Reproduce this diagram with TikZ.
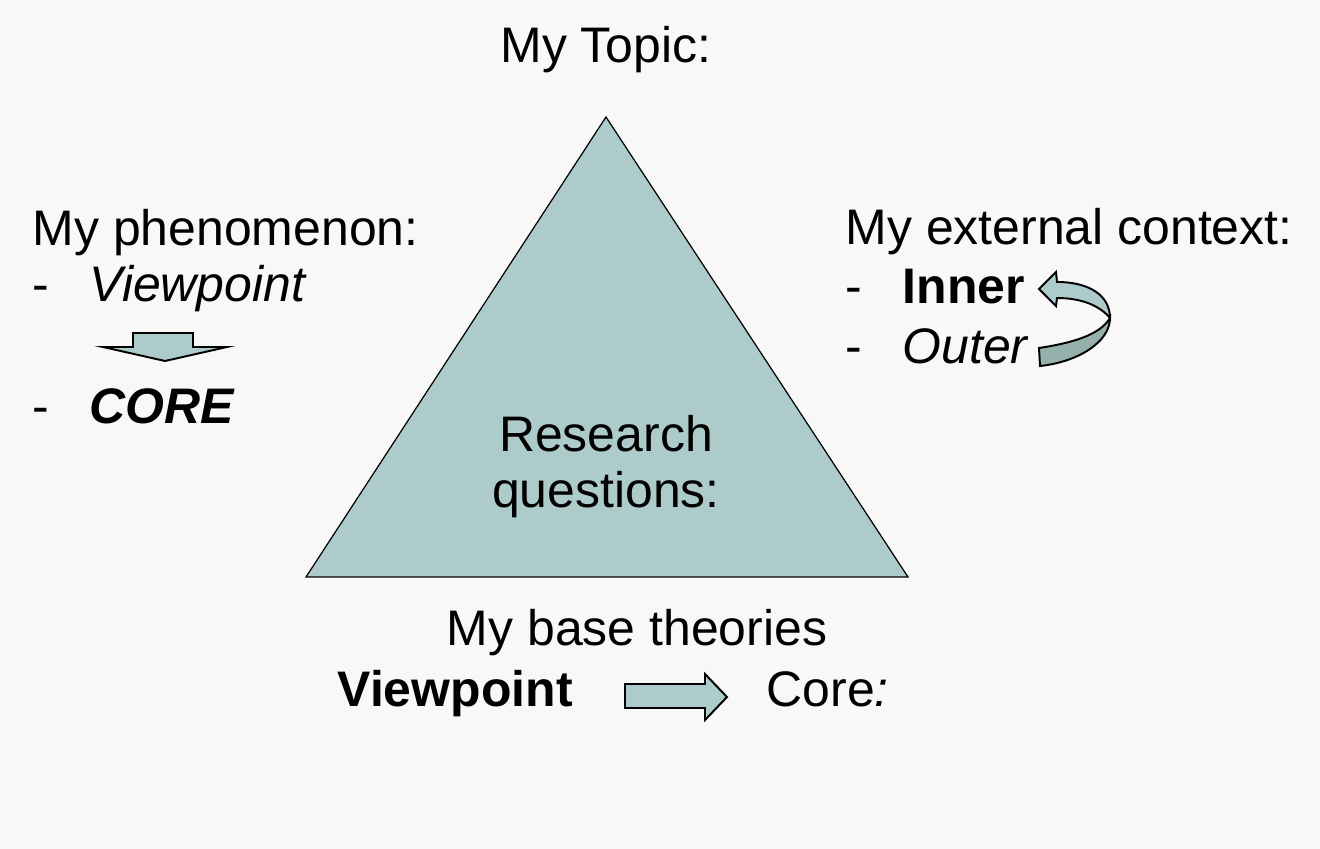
\documentclass[tikz,border=0pt]{standalone}
\usepackage{fontspec}
\setmainfont{Liberation Sans}
\usepackage{xcolor}
\usetikzlibrary{positioning}

\definecolor{paper}{RGB}{248,248,248}
\definecolor{teal}{RGB}{174,203,203}
\definecolor{tealdark}{RGB}{150,176,172}
\newcommand{\dashline}[1]{\makebox[16.2pt][l]{-}#1}

\begin{document}
\begin{tikzpicture}[x=0.01cm,y=-0.01cm,
  every node/.style={inner sep=0pt,anchor=base west,font=\fontsize{14.2}{17}\selectfont},
  centred/.style={anchor=base},
  blockarrow/.style={fill=teal,draw=black,line width=0.55pt,line join=miter}]
  \useasboundingbox[fill=paper] (0,0) rectangle (1320,849);
  % the triangle
  \draw[fill=teal,line width=0.35pt] (606,117) -- (908,577) -- (306,577) -- cycle;
  \node[centred] (topic) at (606,63) {My Topic:};
  \node[centred] (rq1) at (606,452) {Research};
  \node[centred] (rq2) at (606,508) {questions:};
  % left column
  \node (phen) at (32,246) {My phenomenon:};
  \node (phenview) at (32,302) {\dashline{\textit{Viewpoint}}};
  \node (phencore) at (32,424) {\dashline{\textbf{\textit{CORE}}}};
  \draw[blockarrow] (133,333) -- (193,333) -- (193,347) -- (227,347) -- (165,361)
    -- (103,347) -- (133,347) -- cycle;
  % right column
  \node (ext) at (845,245) {My external context:};
  \node (extinner) at (845,304) {\dashline{\textbf{Inner}}};
  \node (extouter) at (845,364) {\dashline{\textit{Outer}}};
  \draw[blockarrow] (1039,289) -- (1056,272) -- (1057,282)
    .. controls (1090,282) and (1110,296) .. (1110,318)
    .. controls (1100,306) and (1082,298) .. (1057,298) -- (1056,306) -- cycle;
  \draw[blockarrow,fill=tealdark] (1039,348) .. controls (1072,343) and (1100,335) .. (1110,318)
    .. controls (1110,342) and (1078,362) .. (1040,366) -- cycle;
  % bottom
  \node[centred] (base) at (637,646) {My base theories};
  \node (baseview) at (337,707) {\textbf{Viewpoint}};
  \node (basecore) at (766,707) {Core\textit{:}};
  \draw[blockarrow] (625,684) -- (705,684) -- (705,674) -- (727,697) -- (705,720)
    -- (705,708) -- (625,708) -- cycle;
\end{tikzpicture}
\end{document}
